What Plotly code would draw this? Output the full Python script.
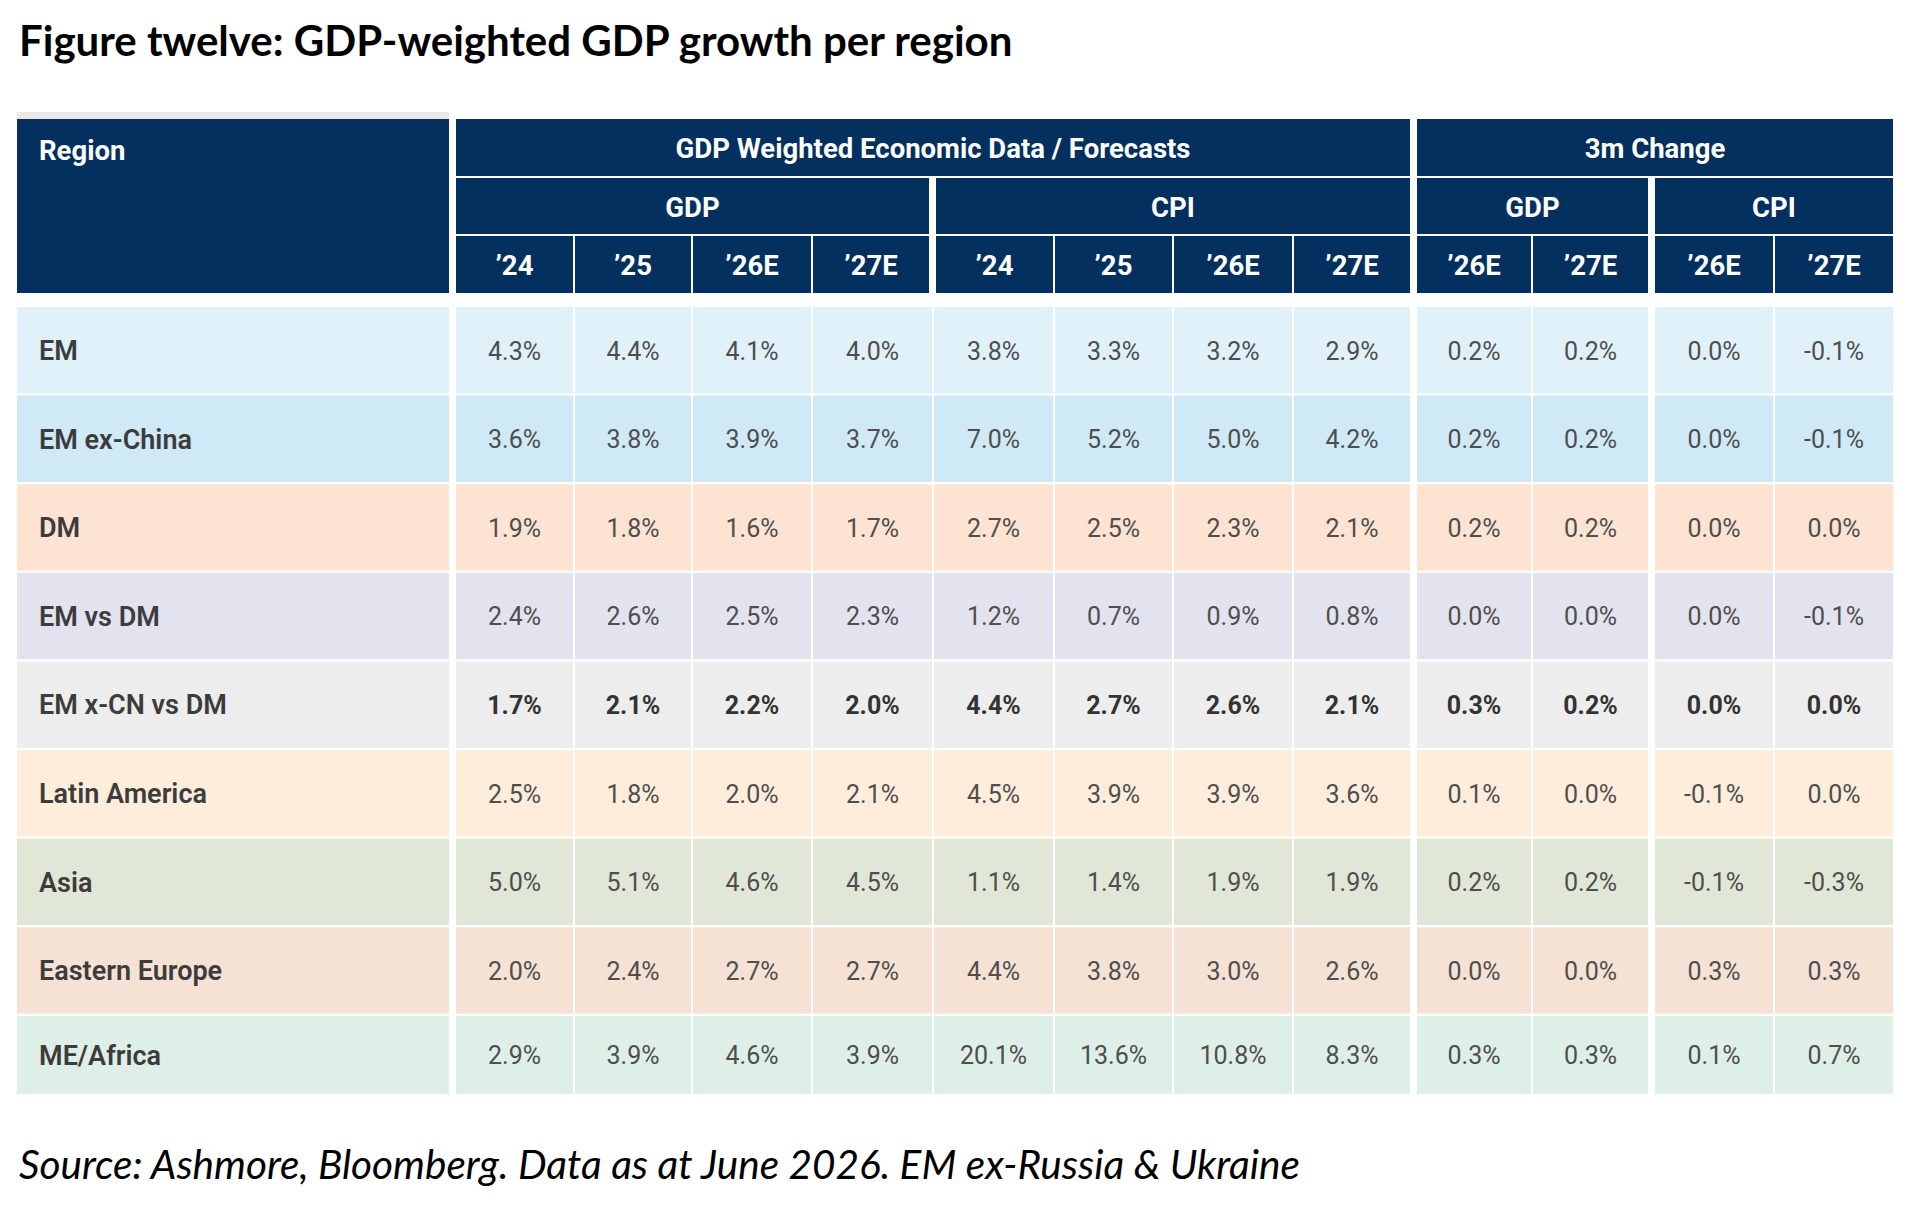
import plotly.graph_objects as go

# ---------------- data ----------------
regions = ["EM", "EM ex-China", "DM", "EM vs DM", "EM x-CN vs DM",
           "Latin America", "Asia", "Eastern Europe", "ME/Africa"]

gdp_24  = [4.3, 3.6, 1.9, 2.4, 1.7, 2.5, 5.0, 2.0, 2.9]
gdp_25  = [4.4, 3.8, 1.8, 2.6, 2.1, 1.8, 5.1, 2.4, 3.9]
gdp_26e = [4.1, 3.9, 1.6, 2.5, 2.2, 2.0, 4.6, 2.7, 4.6]
gdp_27e = [4.0, 3.7, 1.7, 2.3, 2.0, 2.1, 4.5, 2.7, 3.9]
cpi_24  = [3.8, 7.0, 2.7, 1.2, 4.4, 4.5, 1.1, 4.4, 20.1]
cpi_25  = [3.3, 5.2, 2.5, 0.7, 2.7, 3.9, 1.4, 3.8, 13.6]
cpi_26e = [3.2, 5.0, 2.3, 0.9, 2.6, 3.9, 1.9, 3.0, 10.8]
cpi_27e = [2.9, 4.2, 2.1, 0.8, 2.1, 3.6, 1.9, 2.6, 8.3]
chg_gdp_26e = [0.2, 0.2, 0.2, 0.0, 0.3, 0.1, 0.2, 0.0, 0.3]
chg_gdp_27e = [0.2, 0.2, 0.2, 0.0, 0.2, 0.0, 0.2, 0.0, 0.3]
chg_cpi_26e = [0.0, 0.0, 0.0, 0.0, 0.0, -0.1, -0.1, 0.3, 0.1]
chg_cpi_27e = [-0.1, -0.1, 0.0, -0.1, 0.0, 0.0, -0.3, 0.3, 0.7]

year_labels = ["’24", "’25", "’26E", "’27E", "’24", "’25", "’26E", "’27E",
               "’26E", "’27E", "’26E", "’27E"]
group_labels = ["GDP Weighted Economic Data / Forecasts", "3m Change"]
sub_labels = ["GDP", "CPI", "GDP", "CPI"]
bold_rows = ["EM x-CN vs DM"]

title = "Figure twelve: GDP-weighted GDP growth per region"
source = "Source: Ashmore, Bloomberg. Data as at June 2026. EM ex-Russia & Ukraine"

columns = [gdp_24, gdp_25, gdp_26e, gdp_27e, cpi_24, cpi_25, cpi_26e, cpi_27e,
           chg_gdp_26e, chg_gdp_27e, chg_cpi_26e, chg_cpi_27e]

# ---------------- layout / style ----------------
PAGE_W, PAGE_H = 1926, 1209
BODY_MARGIN = 8   # default page margin around the plot div
W, H = PAGE_W - 2 * BODY_MARGIN, PAGE_H - 2 * BODY_MARGIN
NAVY = "#03305F"
row_fills = ["#E1F1FA", "#CFE9F7", "#FDE3D1", "#E2E3EF", "#EDEDED",
             "#FEEDDA", "#E1E7D6", "#F6E1D5", "#DEEFE7"]
TXT = "#4E4E4E"
LBL = "#3C3C3C"
FONT = "Roboto"
TEXT_DY = 3  # small downward nudge of text within cells

# column edges (header row 3) : left, right of each year column
hdr_cols = [(456, 573), (575, 691), (693, 811), (813, 929),
            (936, 1053), (1055, 1172), (1174, 1292), (1294, 1410),
            (1417, 1531), (1533, 1648), (1655, 1773), (1775, 1893)]
# data rows: GDP/CPI in the first group only split by a thin line
data_cols = list(hdr_cols)
data_cols[3] = (813, 932)
data_cols[4] = (934, 1053)
region_x = (17, 449)
sub_spans = [(0, 3), (4, 7), (8, 9), (10, 11)]
group_spans = [(0, 7), (8, 11)]

hdr_rows = [(119, 176), (178, 234), (236, 293)]
row_top0, row_pitch, row_h = 307, 88.6, 86.5
row_tops = [row_top0 + i * row_pitch for i in range(len(regions))]
row_bots = [t + row_h for t in row_tops]
row_bots[-1] = 1094

shapes = []
def rect(x0, x1, y0, y1, color):
    shapes.append(dict(type="rect", xref="x", yref="y", x0=x0, x1=x1, y0=y0, y1=y1,
                       fillcolor=color, line=dict(width=0), layer="below"))

# light grey strip above region header
rect(region_x[0], region_x[1], 112, 119, "#E9E9E9")
# header blocks
rect(region_x[0], region_x[1], hdr_rows[0][0], hdr_rows[2][1], NAVY)
for a, b in group_spans:
    rect(hdr_cols[a][0], hdr_cols[b][1], hdr_rows[0][0], hdr_rows[0][1], NAVY)
for a, b in sub_spans:
    rect(hdr_cols[a][0], hdr_cols[b][1], hdr_rows[1][0], hdr_rows[1][1], NAVY)
for x0, x1 in hdr_cols:
    rect(x0, x1, hdr_rows[2][0], hdr_rows[2][1], NAVY)
# data cells
for i in range(len(regions)):
    y0, y1 = row_tops[i], row_bots[i]
    rect(region_x[0], region_x[1], y0, y1, row_fills[i])
    for x0, x1 in data_cols:
        rect(x0, x1, y0, y1, row_fills[i])

fig = go.Figure()

hdr_font = dict(family=FONT, size=27.5, color="white", weight="bold")
HDR_DY = 4

# header texts
fig.add_trace(go.Scatter(x=[39], y=[(hdr_rows[0][0] + hdr_rows[0][1]) / 2 + 2 + HDR_DY],
                         text=["Region"], mode="text", textposition="middle right",
                         textfont=hdr_font, hoverinfo="skip"))
fig.add_trace(go.Scatter(
    x=[(hdr_cols[a][0] + hdr_cols[b][1]) / 2 for a, b in group_spans],
    y=[(hdr_rows[0][0] + hdr_rows[0][1]) / 2 + HDR_DY] * 2,
    text=group_labels, mode="text", textposition="middle center",
    textfont=hdr_font, hoverinfo="skip"))
fig.add_trace(go.Scatter(
    x=[(hdr_cols[a][0] + hdr_cols[b][1]) / 2 for a, b in sub_spans],
    y=[(hdr_rows[1][0] + hdr_rows[1][1]) / 2 + HDR_DY] * 4,
    text=sub_labels, mode="text", textposition="middle center",
    textfont=hdr_font, hoverinfo="skip"))
fig.add_trace(go.Scatter(
    x=[(x0 + x1) / 2 for x0, x1 in hdr_cols],
    y=[(hdr_rows[2][0] + hdr_rows[2][1]) / 2 + HDR_DY] * len(hdr_cols),
    text=year_labels, mode="text", textposition="middle center",
    textfont=hdr_font, hoverinfo="skip"))

# region labels
for i, r in enumerate(regions):
    yc = (row_tops[i] + row_bots[i]) / 2 + TEXT_DY
    fig.add_trace(go.Scatter(x=[39], y=[yc], text=[r], mode="text",
                             textposition="middle right",
                             textfont=dict(family=FONT, size=27, color=LBL, weight=600),
                             hoverinfo="skip"))

# values
for i, r in enumerate(regions):
    yc = (row_tops[i] + row_bots[i]) / 2 + TEXT_DY
    bold = r in bold_rows
    fig.add_trace(go.Scatter(
        x=[(x0 + x1) / 2 for x0, x1 in data_cols],
        y=[yc] * len(columns),
        text=[f"{col[i]:.1f}%" for col in columns],
        mode="text", textposition="middle center",
        textfont=dict(family=FONT, size=25, color="#333333" if bold else TXT,
                      weight="bold" if bold else "normal"),
        hoverinfo="skip"))

fig.add_annotation(x=17, y=40, xref="x", yref="y", text=title, showarrow=False,
                   xanchor="left", yanchor="middle",
                   font=dict(family="Lato", size=42, color="black", weight="bold"))
fig.add_annotation(x=17, y=1163, xref="x", yref="y", text=source, showarrow=False,
                   xanchor="left", yanchor="middle",
                   font=dict(family="Lato", size=40.5, color="black", style="italic"))

fig.update_layout(
    width=W, height=H, margin=dict(l=0, r=0, t=0, b=0),
    paper_bgcolor="white", plot_bgcolor="white", showlegend=False,
    shapes=shapes,
    xaxis=dict(range=[BODY_MARGIN, BODY_MARGIN + W], visible=False, fixedrange=True),
    yaxis=dict(range=[BODY_MARGIN + H, BODY_MARGIN], visible=False, fixedrange=True),
)

fig.write_html("out.html", config={"displayModeBar": False})
